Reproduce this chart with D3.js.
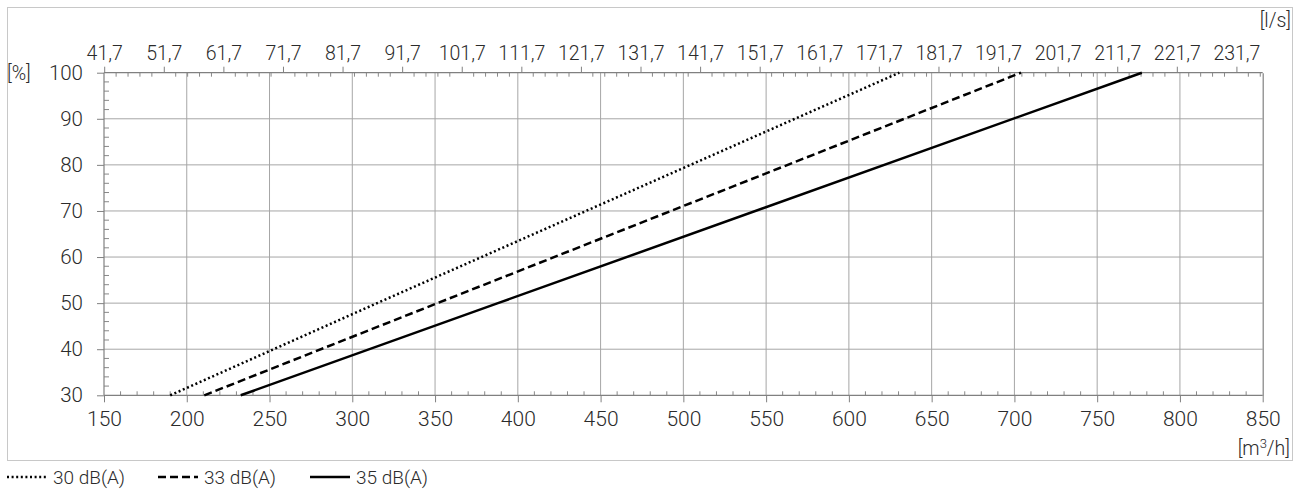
<!DOCTYPE html>
<html>
<head>
<meta charset="utf-8">
<script src="https://cdn.jsdelivr.net/npm/d3@7"></script>
<style>
  body { margin: 0; background: #fff; }
  text { font-family: Roboto, "Liberation Sans", sans-serif; font-weight: 300; fill: #2b2b2b; }
</style>
</head>
<body>
<svg id="chart" width="1306" height="490"></svg>
<script>
// data
var percent = [30, 50, 100];                       // [%]
var flow30 = [190, 315, 630.5];                    // m3/h, 30 dB(A)
var flow33 = [210.6, 351.5, 704];                  // m3/h, 33 dB(A)
var flow35 = [232.6, 388, 777];                    // m3/h, 35 dB(A)
var seriesNames = ["30 dB(A)", "33 dB(A)", "35 dB(A)"];
var seriesDash = ["2,2.6", "8,4", null];

var xTicks = [150, 200, 250, 300, 350, 400, 450, 500, 550, 600, 650, 700, 750, 800, 850];
var yTicks = [30, 40, 50, 60, 70, 80, 90, 100];
var lsTicks = [41.7, 51.7, 61.7, 71.7, 81.7, 91.7, 101.7, 111.7, 121.7, 131.7,
               141.7, 151.7, 161.7, 171.7, 181.7, 191.7, 201.7, 211.7, 221.7, 231.7];

// plot box (top is a reserved window name, so pX names)
var pLeft = 104, pRight = 1262.7, pTop = 72.7, pBottom = 395.3;

var svg = d3.select("#chart");

// outer frame
svg.append("rect")
  .attr("x", 7.5).attr("y", 7.5)
  .attr("width", 1285).attr("height", 453)
  .attr("fill", "none").attr("stroke", "#c8c8c8").attr("stroke-width", 1);

var x = d3.scaleLinear().domain([150, 850]).range([pLeft, pRight]);
var y = d3.scaleLinear().domain([30, 100]).range([pBottom, pTop]);
// l/s on top, same positions: 1 l/s = 3.6 m3/h
var xls = d3.scaleLinear().domain([150 / 3.6, 850 / 3.6]).range([pLeft, pRight]);

var grid = svg.append("g");

// grid lines
grid.selectAll(".vg")
  .data(xTicks.slice(1, -1))
  .enter().append("line")
    .attr("x1", function(d) { return x(d); })
    .attr("x2", function(d) { return x(d); })
    .attr("y1", pTop).attr("y2", pBottom)
    .attr("stroke", "#a6a6a6").attr("stroke-width", 1);

grid.selectAll(".hg")
  .data(yTicks.slice(1, -1))
  .enter().append("line")
    .attr("x1", pLeft).attr("x2", pRight)
    .attr("y1", function(d) { return y(d); })
    .attr("y2", function(d) { return y(d); })
    .attr("stroke", "#a6a6a6").attr("stroke-width", 1);

// minor ticks
var minorX = d3.range(160, 850, 10).filter(function(d) { return d % 50 != 0; });
var minorY = d3.range(32, 100, 2).filter(function(d) { return d % 10 != 0; });
var minorLs = d3.range(43.7, 236, 2).filter(function(d, i) { return (i + 1) % 5 != 0; });

grid.selectAll(".mx")
  .data(minorX)
  .enter().append("line")
    .attr("x1", function(d) { return x(d); })
    .attr("x2", function(d) { return x(d); })
    .attr("y1", pBottom - 4).attr("y2", pBottom)
    .attr("stroke", "#888");

grid.selectAll(".my")
  .data(minorY)
  .enter().append("line")
    .attr("x1", pLeft).attr("x2", pLeft + 5)
    .attr("y1", function(d) { return y(d); })
    .attr("y2", function(d) { return y(d); })
    .attr("stroke", "#888");

grid.selectAll(".ml")
  .data(minorLs)
  .enter().append("line")
    .attr("x1", function(d) { return xls(d); })
    .attr("x2", function(d) { return xls(d); })
    .attr("y1", pTop).attr("y2", pTop + 4)
    .attr("stroke", "#888");

// axes
var fmt = function(d) { return String(d).replace(".", ","); };

var bx = svg.append("g")
  .attr("transform", "translate(0," + pBottom + ")")
  .call(d3.axisBottom(x).tickValues(xTicks).tickSize(7).tickPadding(9));

var tx = svg.append("g")
  .attr("transform", "translate(0," + pTop + ")")
  .call(d3.axisTop(xls).tickValues(lsTicks).tickFormat(fmt).tickSize(6).tickPadding(7));

var ly = svg.append("g")
  .attr("transform", "translate(" + pLeft + ",0)")
  .call(d3.axisLeft(y).tickValues(yTicks).tickSize(7).tickPadding(14));

var ry = svg.append("g")
  .attr("transform", "translate(" + pRight + ",0)")
  .call(d3.axisRight(y).tickValues([]).tickSizeOuter(0));

[bx, tx, ly, ry].forEach(function(g) {
  g.selectAll(".domain").attr("stroke", "#808080").attr("stroke-width", 1.2);
  g.selectAll(".tick line").attr("stroke", "#808080");
  g.selectAll("text").attr("font-size", 19.5).attr("fill", "#2b2b2b")
    .attr("font-family", null);
});
bx.selectAll("text").attr("font-size", 21);
ly.selectAll("text").attr("font-size", 20.5);
bx.select(".domain").attr("d", "M" + pLeft + ",0H" + pRight);
tx.select(".domain").attr("d", "M" + pLeft + ",0H" + pRight);
ly.select(".domain").attr("d", "M0," + pTop + "V" + pBottom);

// unit labels
svg.append("text").attr("x", 7).attr("y", 80).attr("font-size", 19.5).text("[%]");
svg.append("text").attr("x", 1291).attr("y", 27).attr("text-anchor", "end")
  .attr("font-size", 19.5).text("[l/s]");
var mh = svg.append("text").attr("x", 1290).attr("y", 455).attr("text-anchor", "end")
  .attr("font-size", 19.5);
mh.append("tspan").text("[m");
mh.append("tspan").attr("font-size", 13).attr("dy", -7).text("3");
mh.append("tspan").attr("dy", 7).text("/h]");

// series
var series = [flow30, flow33, flow35];
var line = d3.line()
  .x(function(d) { return x(d[0]); })
  .y(function(d) { return y(d[1]); });

series.forEach(function(s, i) {
  var pts = s.map(function(v, j) { return [v, percent[j]]; });
  svg.append("path")
    .datum(pts)
    .attr("fill", "none")
    .attr("stroke", "#000")
    .attr("stroke-width", 2.5)
    .attr("stroke-dasharray", seriesDash[i])
    .attr("d", line);
});

// legend
var legendX = [7, 158, 310];
var leg = svg.selectAll(".leg")
  .data(seriesNames)
  .enter().append("g")
    .attr("transform", function(d, i) { return "translate(" + legendX[i] + ",477)"; });
leg.append("line")
  .attr("x1", 0).attr("x2", 40)
  .attr("stroke", "#000").attr("stroke-width", 2.5)
  .attr("stroke-dasharray", function(d, i) { return seriesDash[i]; });
leg.append("text")
  .attr("x", 46).attr("y", 7)
  .attr("font-size", 19)
  .text(function(d) { return d; });
</script>
</body>
</html>
